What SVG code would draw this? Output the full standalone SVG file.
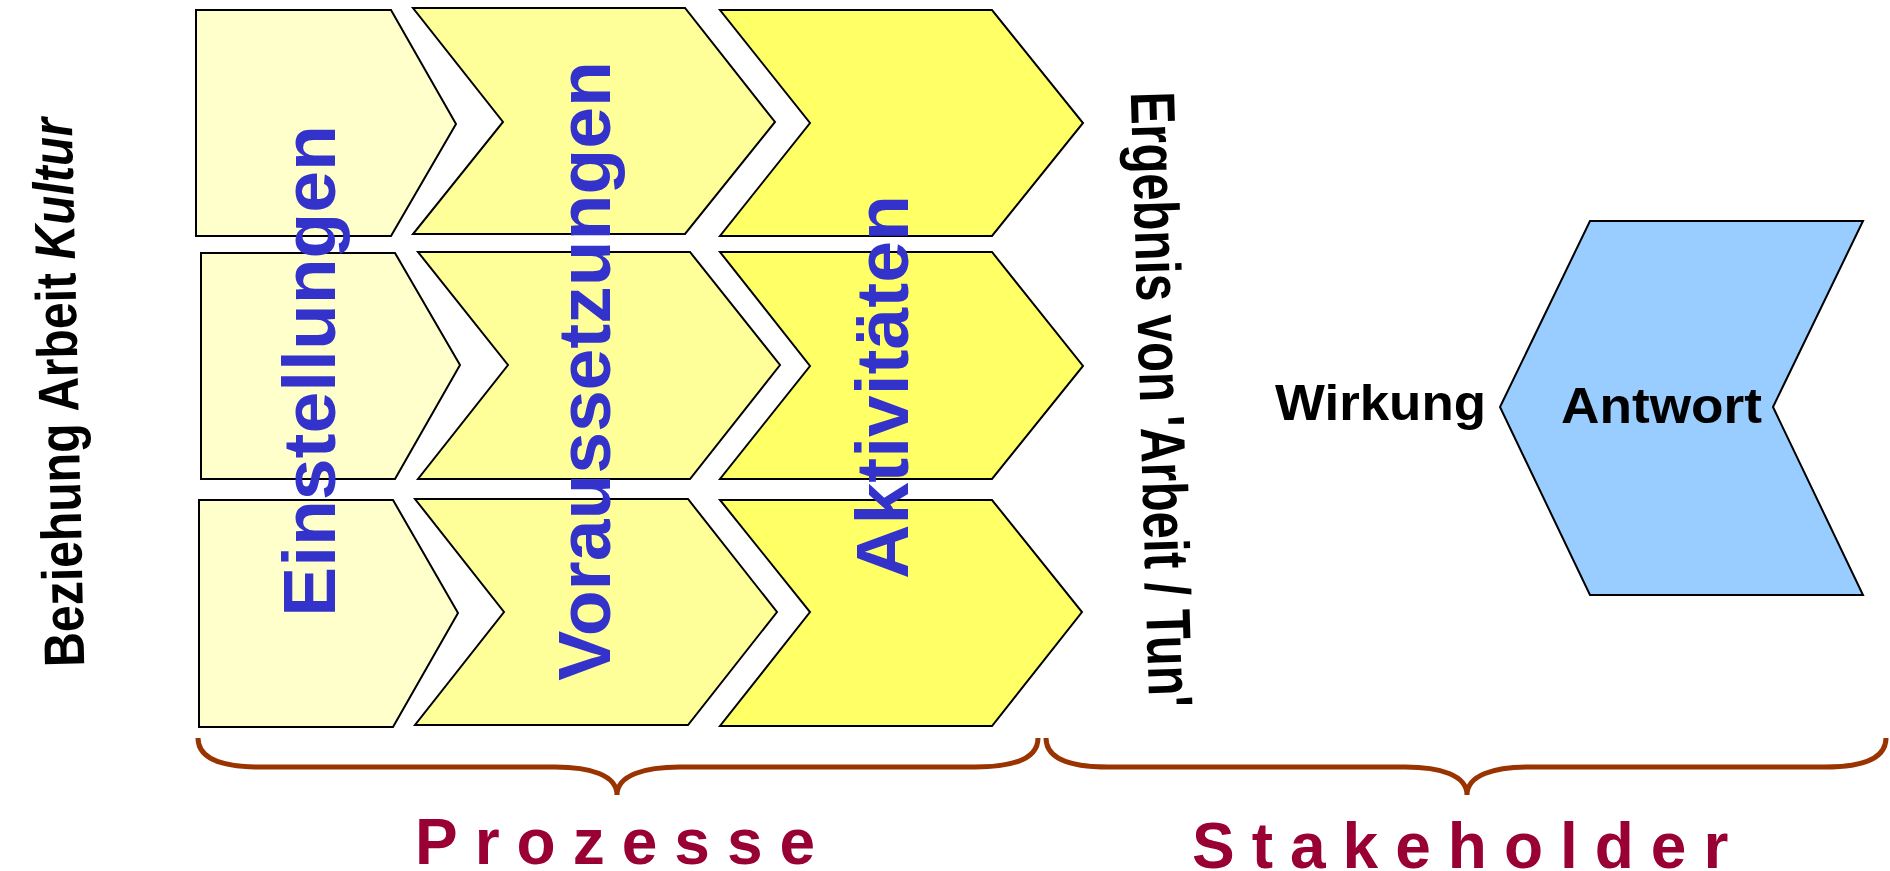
<svg xmlns="http://www.w3.org/2000/svg" width="1890" height="871" viewBox="0 0 1890 871">
<style>
.sh{stroke:#000;stroke-width:2;stroke-linejoin:miter}
.c1{fill:#FFFFCC}.c2{fill:#FFFF99}.c3{fill:#FFFF66}.c4{fill:#99CCFF}
.blue{font-family:"Liberation Sans",Arial,sans-serif;font-weight:bold;font-size:75px;fill:#3333CC}
.blk{font-family:"Liberation Sans",Arial,sans-serif;font-weight:bold;fill:#000}
.red{font-family:"Liberation Sans",Arial,sans-serif;font-weight:bold;font-size:64px;fill:#990033;letter-spacing:17px}
.brace{fill:none;stroke:#993300;stroke-width:5}
</style>
<rect width="1890" height="871" fill="#fff"/>
<g id="einstellungen">
<polygon class="sh c1" points="196,10 391,10 456,124 391,236 196,236"/>
<polygon class="sh c1" points="201,253 395,253 460,365 395,479 201,479"/>
<polygon class="sh c1" points="199,500 393,500 458,613 393,727 199,727"/>
</g>
<g id="voraussetzungen">
<polygon class="sh c2" points="413,8 685,8 775,122 685,234 413,234 503,122"/>
<polygon class="sh c2" points="418,252 690,252 780,365 690,479 418,479 508,365"/>
<polygon class="sh c2" points="415,499 688,499 777,612 688,725 415,725 504,612"/>
</g>
<g id="aktivitaeten">
<polygon class="sh c3" points="720,10 992,10 1083,123 992,236 720,236 810,123"/>
<polygon class="sh c3" points="720,252 992,252 1083,366 992,479 720,479 810,366"/>
<polygon class="sh c3" points="720,500 992,500 1082,612 992,726 720,726 810,612"/>
</g>
<g id="labels-prozess">
<text class="blue" text-anchor="middle" transform="translate(335,371) rotate(-90)">Einstellungen</text>
<text class="blue" text-anchor="middle" transform="translate(610,371) rotate(-90)">Voraussetzungen</text>
<text class="blue" text-anchor="middle" transform="translate(908,387) rotate(-90)">Aktivitäten</text>
</g>
<g id="beziehung">
<text class="blk" font-size="57" text-anchor="middle" textLength="549" lengthAdjust="spacingAndGlyphs" transform="translate(78,392) rotate(-91.3)">Beziehung Arbeit <tspan font-style="italic">Kultur</tspan></text>
</g>
<g id="ergebnis">
<text class="blk" font-size="63" text-anchor="middle" transform="translate(1140,400) rotate(88.3) scale(0.778,1)">Ergebnis von 'Arbeit / Tun'</text>
</g>
<g id="wirkung">
<text class="blk" font-size="50" x="1275" y="420" textLength="211" lengthAdjust="spacingAndGlyphs">Wirkung</text>
</g>
<g id="antwort">
<polygon class="sh c4" points="1590,221 1863,221 1773,407 1863,595 1590,595 1500,407"/>
<text class="blk" font-size="50" x="1561" y="423" textLength="201" lengthAdjust="spacingAndGlyphs">Antwort</text>
</g>
<g id="connectors">
<path class="brace" d="M198,738 C198,760 225,767 260,767 L555,767 C590,767 617,775 617,795 C617,775 645,767 680,767 L975,767 C1010,767 1038,760 1038,738"/>
<path class="brace" d="M1046,738 C1046,760 1073,767 1108,767 L1405,767 C1440,767 1467,775 1467,795 C1467,775 1494,767 1529,767 L1825,767 C1860,767 1886,760 1886,738"/>
</g>
<g id="prozesse">
<text class="red" x="415" y="864">Prozesse</text>
</g>
<g id="stakeholder">
<text class="red" x="1192" y="868">Stakeholder</text>
</g>
</svg>
